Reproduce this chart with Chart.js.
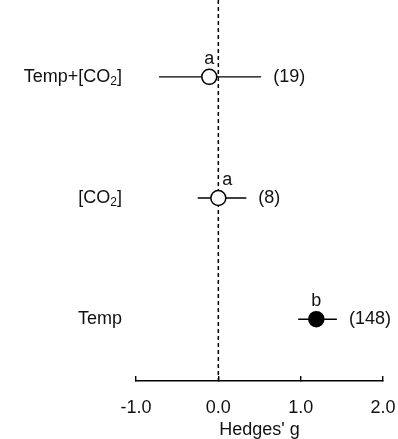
<!DOCTYPE html>
<html>
<head>
<meta charset="utf-8">
<script src="https://cdn.jsdelivr.net/npm/chart.js@4.4.1/dist/chart.umd.min.js"></script>
<style>
  html, body { margin: 0; padding: 0; background: #fff; }
  #wrap { width: 398px; height: 439px; }
</style>
</head>
<body>
<div id="wrap"><canvas id="forest"></canvas></div>
<script>
// categories top to bottom, "_2" marks a subscript
const categories = ['Temp+[CO_2]', '[CO_2]', 'Temp'];
const effect = [-0.11, 0.0, 1.19];
const ciLow = [-0.72, -0.25, 0.97];
const ciHigh = [0.52, 0.34, 1.44];
const sampleSizes = [19, 8, 148];
const groupLetters = ['a', 'a', 'b'];
const xTicks = [-1, 0, 1, 2];

const FONT = "'Liberation Sans', Arial, sans-serif";
const FS = 18;

// draws text where "_x" becomes a subscript
function drawRich(ctx, text, x, y, size, align) {
  const parts = text.split(/(_\d)/).filter(p => p.length);
  const big = size + 'px ' + FONT, small = Math.round(size * 0.65) + 'px ' + FONT;
  let w = 0;
  parts.forEach(p => {
    ctx.font = p[0] === '_' ? small : big;
    w += ctx.measureText(p[0] === '_' ? p.slice(1) : p).width;
  });
  let cx = align === 'right' ? x - w : x;
  ctx.textAlign = 'left';
  ctx.textBaseline = 'middle';
  parts.forEach(p => {
    if (p[0] === '_') {
      ctx.font = small;
      ctx.fillText(p.slice(1), cx, y + size * 0.28);
      cx += ctx.measureText(p.slice(1)).width;
    } else {
      ctx.font = big;
      ctx.fillText(p, cx, y);
      cx += ctx.measureText(p).width;
    }
  });
}

const forestPlugin = {
  id: 'forest',
  beforeDatasetsDraw(chart) {
    const ctx = chart.ctx, xs = chart.scales.x, ys = chart.scales.y, area = chart.chartArea;
    ctx.save();
    // zero line
    ctx.strokeStyle = '#000';
    ctx.lineWidth = 1.5;
    ctx.setLineDash([4, 3]);
    ctx.beginPath();
    ctx.moveTo(xs.getPixelForValue(0), 0);
    ctx.lineTo(xs.getPixelForValue(0), area.bottom);
    ctx.stroke();
    ctx.setLineDash([]);
    // confidence intervals
    ctx.lineWidth = 1.4;
    categories.forEach((c, i) => {
      const py = ys.getPixelForValue(categories.length - i);
      ctx.beginPath();
      ctx.moveTo(xs.getPixelForValue(ciLow[i]), py);
      ctx.lineTo(xs.getPixelForValue(ciHigh[i]), py);
      ctx.stroke();
    });
    ctx.restore();
  },
  afterDatasetsDraw(chart) {
    const ctx = chart.ctx, xs = chart.scales.x, ys = chart.scales.y, area = chart.chartArea;
    const zeroPx = xs.getPixelForValue(0);
    ctx.save();
    ctx.fillStyle = '#111';
    categories.forEach((c, i) => {
      const py = ys.getPixelForValue(categories.length - i);
      drawRich(ctx, c, area.left - 14, py, FS, 'right');
      // group letter above the point, nudged off the zero line
      let lx = xs.getPixelForValue(effect[i]);
      if (Math.abs(lx - zeroPx) < 6) lx = zeroPx + 9;
      ctx.font = FS + 'px ' + FONT;
      ctx.textAlign = 'center';
      ctx.textBaseline = 'middle';
      ctx.fillText(groupLetters[i], lx, py - 18);
      // sample size
      ctx.textAlign = 'left';
      ctx.fillText('(' + sampleSizes[i] + ')', xs.getPixelForValue(ciHigh[i]) + 12, py);
    });
    ctx.restore();
  }
};

new Chart(document.getElementById('forest'), {
  type: 'scatter',
  data: {
    datasets: [{
      data: effect.map((v, i) => ({ x: v, y: categories.length - i })),
      pointRadius: 7.5,
      pointHoverRadius: 7.5,
      pointBorderWidth: 1.5,
      pointBorderColor: '#000',
      pointBackgroundColor: effect.map((v, i) => groupLetters[i] === 'b' ? '#000' : '#fff')
    }]
  },
  options: {
    responsive: true,
    maintainAspectRatio: false,
    animation: false,
    layout: { padding: { left: 136, right: 15, top: 0, bottom: 0 } },
    plugins: { legend: { display: false }, tooltip: { enabled: false } },
    scales: {
      x: {
        type: 'linear',
        min: -1,
        max: 2,
        afterBuildTicks: axis => { axis.ticks = xTicks.map(v => ({ value: v })); },
        afterFit: axis => { axis.height = 58; axis.paddingLeft = 0; axis.paddingRight = 0; },
        grid: { drawOnChartArea: false, drawTicks: true, tickLength: -5, color: '#000', lineWidth: 1.4 },
        border: { color: '#000', width: 1.5 },
        ticks: {
          padding: 21,
          color: '#111',
          font: { family: FONT, size: FS },
          callback: v => v.toFixed(1)
        },
        title: {
          display: true,
          text: "Hedges' g",
          color: '#111',
          font: { family: FONT, size: FS },
          padding: { top: 0, bottom: -2 }
        }
      },
      y: {
        type: 'linear',
        display: false,
        min: 0.49,
        max: 3.56
      }
    }
  },
  plugins: [forestPlugin]
});
</script>
</body>
</html>
